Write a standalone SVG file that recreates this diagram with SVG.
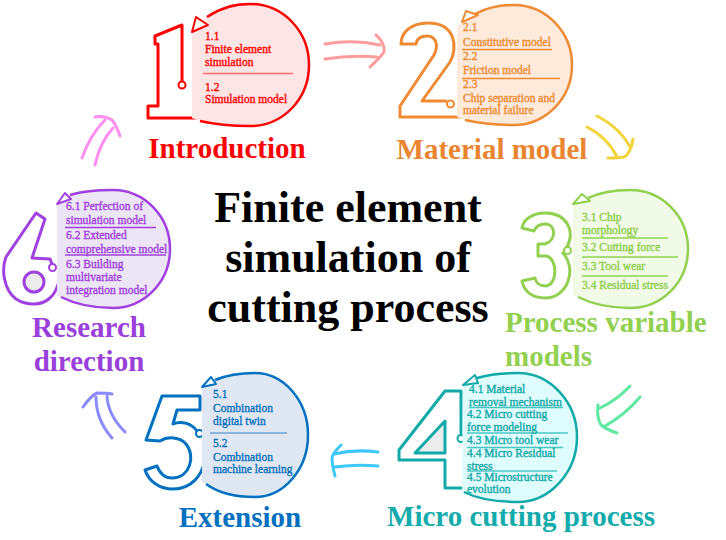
<svg xmlns="http://www.w3.org/2000/svg" width="726" height="540" viewBox="0 0 726 540">
<style>
  .t { font-family: "Liberation Serif", "Times New Roman", serif; font-size: 11.5px; stroke-width: 0.35px; }
  .lab { font-family: "Liberation Serif", "Times New Roman", serif; font-size: 29px; font-weight: bold; }
  .title { font-family: "Liberation Serif", "Times New Roman", serif; font-size: 44px; font-weight: bold; fill: #000; text-anchor: middle; }
  .dig { fill: none; stroke-width: 3; stroke-linejoin: round; }
  .dot { fill: #fff; stroke-width: 2; }
  .arc { fill: none; stroke-width: 2.5; }
  .tri { fill: #fff; stroke-width: 2; stroke-linejoin: round; }
  .div { stroke-width: 1.5; }
  #connectors path { fill: none; stroke-width: 3; stroke-linecap: round; stroke-linejoin: round; }
  .k1 { stroke: #ff0000; } .f1 { fill: #fde5e5; } .x1 { fill: #ff0000; }
  .k2 { stroke: #ee8a33; } .f2 { fill: #fdeadb; } .x2 { fill: #e98530; }
  .k3 { stroke: #92d050; } .f3 { fill: #f0fae6; } .x3 { fill: #8cc84b; }
  .k4 { stroke: #12a9a9; } .f4 { fill: #dffdfd; } .x4 { fill: #14a3a3; }
  .k5 { stroke: #0070c0; } .f5 { fill: #dfe8f2; } .x5 { fill: #1f6fb8; }
  .k6 { stroke: #a040e0; } .f6 { fill: #ece5f5; } .x6 { fill: #9a40d8; }
</style>
<rect width="726" height="540" fill="#fff"/>

<g id="title">
  <text class="title" x="348" y="222">Finite element</text>
  <text class="title" x="348" y="272">simulation of</text>
  <text class="title" x="348" y="322">cutting process</text>
</g>

<g id="connectors">
  <g stroke="#ff9c9c">
    <path d="M 325,44 Q 353,39 380,45"/>
    <path d="M 325,59 Q 350,55 377,57"/>
    <path d="M 376,35 C 382,40 385,47 384,52 C 380,58 375,62 370,67"/>
  </g>
  <g stroke="#f2d43a">
    <path d="M 597,116 Q 620,128 630,147"/>
    <path d="M 587,127 Q 608,138 617,157"/>
    <path d="M 633,139 C 632,148 628,155 624,157 C 618,158 612,158 608,158"/>
  </g>
  <g stroke="#5fe89f">
    <path d="M 630,386 Q 617,400 600,408"/>
    <path d="M 640,397 Q 625,415 605,426"/>
    <path d="M 598,405 C 597,413 598,420 601,425 C 606,429 611,431 617,433"/>
  </g>
  <g stroke="#3cc8f8">
    <path d="M 378,452 Q 355,449 334,454"/>
    <path d="M 378,466 Q 356,464 335,467"/>
    <path d="M 341,445 C 336,450 332,455 332,458 C 332,465 334,471 335,476"/>
  </g>
  <g stroke="#8a8aff">
    <path d="M 112,438 Q 96,420 96,397"/>
    <path d="M 125,432 Q 108,415 107,396"/>
    <path d="M 83,407 C 88,400 92,395 97,393 C 102,393 107,393 112,394"/>
  </g>
  <g stroke="#ff8ef0">
    <path d="M 82,158 Q 90,135 105,120"/>
    <path d="M 95,165 Q 100,142 113,128"/>
    <path d="M 95,117 C 101,116 107,117 112,120 C 116,125 118,130 120,136"/>
  </g>
</g>

<g id="node1">
  <path class="dig k1" d="M 182,81.5 L 182,25 L 155,36 L 155,44 L 158,44 L 158,106 L 148,106 L 148,118 L 200,118"/>
  <circle class="dot k1" cx="182" cy="85" r="3.5"/>
  <path class="f1" d="M 192,32 L 207,17 C 220,8 234,4 250,4 C 283,4 309,31 309,65 C 309,99 283,126 250,126 C 230,126 213,124 200,121 L 192,118 Z"/>
  <path class="arc k1" d="M 207,17 C 220,8 234,4 250,4 C 283,4 309,31 309,65 C 309,99 283,126 250,126 C 230,126 213,124 200,121"/>
  <polygon class="tri k1" points="192,32 196,17 208,25"/>
  <line class="div" stroke="#ff6b6b" x1="203" y1="73.5" x2="293" y2="73.5"/>
  <g class="t x1 k1">
    <text x="205" y="40">1.1</text>
    <text x="205" y="53">Finite element</text>
    <text x="205" y="65.5">simulation</text>
    <text x="205" y="90.5">1.2</text>
    <text x="205" y="103">Simulation model</text>
  </g>
  <text class="lab x1" x="227" y="158" text-anchor="middle">Introduction</text>
</g>

<g id="node2">
  <path class="dig k2" d="M 447,101 L 422,101 L 450,62 C 458,48 456,23 428,23 C 410,23 401,33 401,44 L 416,44 C 417,38 421,36 427,36 C 436,36 439,45 434,55 L 400,106 L 400,117 L 462,117"/>
  <circle class="dot k2" cx="450.5" cy="104" r="3.5"/>
  <path class="f2" d="M 462,22 L 475,14 C 488,7 500,5 514,5 C 546,5 572,32 572,65 C 572,98 546,125 514,125 C 495,125 478,123 465,120 L 457,117 L 457,27 Z"/>
  <path class="arc k2" d="M 475,14 C 488,7 500,5 514,5 C 546,5 572,32 572,65 C 572,98 546,125 514,125 C 495,125 478,123 465,120"/>
  <polygon class="tri k2" points="462,22 466,11 478,15"/>
  <line class="div k2" x1="462" y1="49.5" x2="552" y2="49.5"/>
  <line class="div k2" x1="462" y1="78.5" x2="560" y2="78.5"/>
  <g class="t x2 k2">
    <text x="463" y="31">2.1</text>
    <text x="463" y="45.5">Constitutive model</text>
    <text x="463" y="60">2.2</text>
    <text x="463" y="74">Friction model</text>
    <text x="463" y="88">2.3</text>
    <text x="463" y="102">Chip separation and</text>
    <text x="463" y="114">material failure</text>
  </g>
  <text class="lab x2" x="492" y="159" text-anchor="middle">Material model</text>
</g>

<g id="node3">
  <path class="dig k3" d="M 567,247 C 575,232 568,213 545,213 C 532,213 523,220 522,228 L 534,231 C 536,226 540,224 545,224 C 556,224 557,240 545,244 L 538,244 L 538,256 L 546,256 C 558,258 558,286 545,286 C 540,286 536,283 535,278 L 522,281 C 524,292 533,298 545,298 C 568,298 578,268 562,252"/>
  <circle class="dot k3" cx="567.5" cy="250.5" r="3.5"/>
  <path class="f3" d="M 573,204 L 588,198 C 601,192 614,190 630,190 C 662,190 688,216 688,249 C 688,282 662,308 630,308 C 608,308 590,303 578,297 L 573,296 Z"/>
  <path class="arc k3" d="M 588,198 C 601,192 614,190 630,190 C 662,190 688,216 688,249 C 688,282 662,308 630,308 C 608,308 590,303 578,297"/>
  <polygon class="tri k3" points="573,204 582,194 590,201"/>
  <line class="div k3" x1="582" y1="238" x2="668" y2="238"/>
  <line class="div k3" x1="582" y1="257" x2="678" y2="257"/>
  <line class="div k3" x1="582" y1="276" x2="668" y2="276"/>
  <g class="t x3 k3">
    <text x="582" y="221">3.1 Chip</text>
    <text x="582" y="234">morphology</text>
    <text x="582" y="250.5">3.2 Cutting force</text>
    <text x="582" y="269.5">3.3 Tool wear</text>
    <text x="582" y="289">3.4 Residual stress</text>
  </g>
  <g class="lab" fill="#92d050">
    <text x="505" y="332">Process variable</text>
    <text x="505" y="366">models</text>
  </g>
</g>

<g id="node4">
  <path class="dig k4" d="M 461,435 L 461,391 L 445,391 L 399,450 L 399,460 L 445,460 L 445,488 L 466,488"/>
  <polygon points="415,453 445,421 445,453" fill="#ececec" class="k4" stroke-width="3" stroke-linejoin="round"/>
  <circle class="dot k4" cx="461" cy="438.5" r="3.5"/>
  <path class="f4" d="M 463,385 L 477,378 C 490,374 503,373 518,373 C 550,373 577,402 577,437 C 577,472 550,502 518,502 C 495,502 476,498 464,492 L 462,492 Z"/>
  <path class="arc k4" d="M 477,378 C 490,374 503,373 518,373 C 550,373 577,402 577,437 C 577,472 550,502 518,502 C 495,502 476,498 464,492"/>
  <polygon class="tri k4" points="463,385 475,375 478,383"/>
  <line class="div" stroke="#4cc4c4" x1="469" y1="407.5" x2="563" y2="407.5"/>
  <line class="div" stroke="#4cc4c4" x1="467" y1="433" x2="568" y2="433"/>
  <line class="div" stroke="#4cc4c4" x1="467" y1="447.5" x2="563" y2="447.5"/>
  <line class="div" stroke="#4cc4c4" x1="467" y1="471" x2="557" y2="471"/>
  <g class="t x4 k4">
    <text x="469" y="393">4.1 Material</text>
    <text x="469" y="406">removal mechanism</text>
    <text x="467" y="418">4.2 Micro cutting</text>
    <text x="467" y="431">force modeling</text>
    <text x="467" y="444">4.3 Micro tool wear</text>
    <text x="467" y="457">4.4 Micro Residual</text>
    <text x="467" y="470">stress</text>
    <text x="467" y="480.5">4.5 Microstructure</text>
    <text x="467" y="493">evolution</text>
  </g>
  <text class="lab" fill="#13abab" x="521" y="526" text-anchor="middle">Micro cutting process</text>
</g>

<g id="node5">
  <path class="dig k5" d="M 197,431 C 192,424 182,420 173,424 L 177,410 L 200,410 L 200,396 L 162,396 L 146,440 L 160,441 C 168,436 180,437 186,444 C 196,456 190,478 172,478 C 165,478 160,474 157,466 L 145,470 C 149,482 160,489 173,489 C 192,489 202,475 205,460"/>
  <circle class="dot k5" cx="199.5" cy="433.5" r="3.5"/>
  <path class="f5" d="M 202,387 L 215,380 C 227,375 240,373 255,373 C 284,373 308,401 308,435 C 308,469 284,497 255,497 C 235,497 217,492 206,484 L 202,482 Z"/>
  <path class="arc k5" d="M 215,380 C 227,375 240,373 255,373 C 284,373 308,401 308,435 C 308,469 284,497 255,497 C 235,497 217,492 206,484"/>
  <polygon class="tri k5" points="202,387 211,377 216,384"/>
  <line class="div" stroke="#6fa3d3" x1="210" y1="433" x2="287" y2="433"/>
  <g class="t x5 k5">
    <text x="213" y="398">5.1</text>
    <text x="213" y="412">Combination</text>
    <text x="213" y="425">digital twin</text>
    <text x="213" y="447">5.2</text>
    <text x="213" y="461">Combination</text>
    <text x="213" y="473">machine learning</text>
  </g>
  <text class="lab" fill="#0070c0" x="240" y="527" text-anchor="middle">Extension</text>
</g>

<g id="node6">
  <path class="dig k6" d="M 52,264 L 50,259 L 32,258 L 45,219 L 36,213 L 6,257 C 1,270 4,290 16,299 C 22,303 28,304 34,304 C 46,304 55,296 58,284"/>
  <circle cx="34" cy="282" r="10" fill="#ececec" class="k6" stroke-width="3"/>
  <circle class="dot k6" cx="52.5" cy="267.5" r="3.5"/>
  <path class="f6" d="M 57,204 L 70,195 C 83,191 97,190 113,190 C 144,190 170,216 170,249 C 170,282 144,308 113,308 C 91,308 73,303 61,297 L 57,296 Z"/>
  <path class="arc k6" d="M 70,195 C 83,191 97,190 113,190 C 144,190 170,216 170,249 C 170,282 144,308 113,308 C 91,308 73,303 61,297"/>
  <polygon class="tri k6" points="57,204 65,193 71,199"/>
  <line class="div k6" x1="65" y1="227.5" x2="156" y2="227.5"/>
  <line class="div k6" x1="65" y1="255" x2="166" y2="255"/>
  <g class="t x6 k6">
    <text x="66" y="210">6.1 Perfection of</text>
    <text x="66" y="224">simulation model</text>
    <text x="66" y="239">6.2 Extended</text>
    <text x="66" y="253">comprehensive model</text>
    <text x="66" y="268">6.3 Building</text>
    <text x="66" y="281">multivariate</text>
    <text x="66" y="294">integration model</text>
  </g>
  <g class="lab" fill="#9b3fdb" text-anchor="middle">
    <text x="89" y="337">Research</text>
    <text x="89" y="371">direction</text>
  </g>
</g>
</svg>
